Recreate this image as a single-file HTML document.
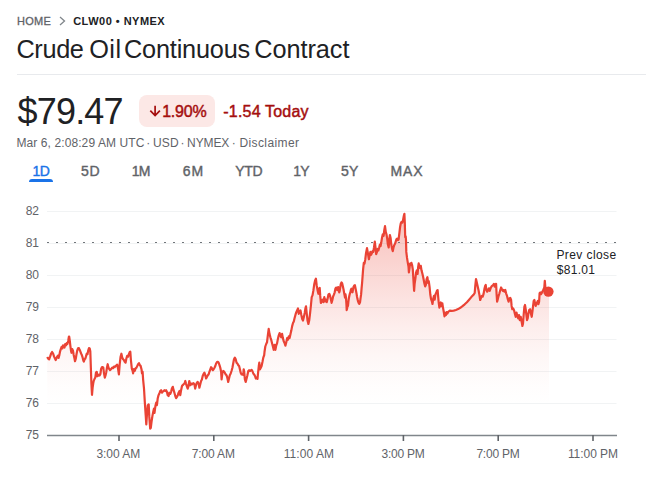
<!DOCTYPE html>
<html><head><meta charset="utf-8">
<style>
html,body{margin:0;padding:0;background:#fff;}
body{width:646px;height:478px;position:relative;overflow:hidden;font-family:"Liberation Sans",sans-serif;color:#202124;}
.t{position:absolute;white-space:nowrap;line-height:1;}
.hr{position:absolute;left:17px;right:0;top:74px;height:1px;background:#e8eaed;}
.badge{position:absolute;left:139px;top:95px;width:76px;height:31.5px;border-radius:8px;background:#fce8e6;}
.ul{position:absolute;left:29px;top:179px;width:24px;height:3px;border-radius:3px 3px 0 0;background:#1a73e8;}
.yl{font-size:12px;color:#5f6368;left:25.7px;}
.dot{font-size:12px;color:#5f6368;top:136.6px;}
svg{position:absolute;left:0;top:0;}
</style></head><body>
<svg width="646" height="478" viewBox="0 0 646 478">
<defs><linearGradient id="g" gradientUnits="userSpaceOnUse" x1="0" y1="211" x2="0" y2="405">
<stop offset="0" stop-color="#ea4335" stop-opacity="0.34"/><stop offset="0.242" stop-color="#ea4335" stop-opacity="0.24"/><stop offset="0.407" stop-color="#ea4335" stop-opacity="0.17"/><stop offset="0.603" stop-color="#ea4335" stop-opacity="0.09"/><stop offset="0.747" stop-color="#ea4335" stop-opacity="0.045"/><stop offset="0.902" stop-color="#ea4335" stop-opacity="0.012"/><stop offset="1" stop-color="#ea4335" stop-opacity="0"/></linearGradient></defs>
<path d="M60,16.9 L64.5,20.9 L60,24.9" fill="none" stroke="#80868b" stroke-width="1.3"/>
<g stroke="#f1f3f4" stroke-width="1"><line x1="47" x2="616.5" y1="211.5" y2="211.5"/><line x1="47" x2="616.5" y1="243.5" y2="243.5"/><line x1="47" x2="616.5" y1="275.5" y2="275.5"/><line x1="47" x2="616.5" y1="307.5" y2="307.5"/><line x1="47" x2="616.5" y1="339.5" y2="339.5"/><line x1="47" x2="616.5" y1="371.5" y2="371.5"/><line x1="47" x2="616.5" y1="403.5" y2="403.5"/></g>
<path d="M47.2,356.9 L48.1,358.6 L49.1,359.3 L50.2,356.4 L51.0,353.9 L52.1,352.0 L53.1,353.5 L54.0,356.4 L55.0,358.6 L55.7,360.1 L56.9,357.1 L57.9,355.7 L58.6,357.9 L59.4,354.9 L60.1,351.3 L60.8,349.1 L61.6,346.9 L62.3,348.4 L63.0,345.4 L63.8,346.2 L64.5,347.6 L65.2,344.0 L66.0,345.4 L66.7,343.2 L67.4,344.0 L68.2,341.0 L68.9,336.6 L69.2,336.6 L69.8,341.0 L70.4,346.2 L71.1,351.3 L71.5,352.8 L72.3,349.1 L73.0,350.6 L73.7,354.9 L74.5,358.6 L75.0,361.2 L75.8,358.6 L76.5,354.2 L77.2,350.6 L78.0,348.4 L78.9,348.1 L79.6,349.8 L80.3,351.3 L81.1,353.5 L81.8,354.9 L82.5,357.1 L83.2,360.1 L83.8,361.5 L84.6,359.3 L85.3,358.6 L86.0,356.4 L86.8,353.5 L87.5,354.2 L88.2,350.6 L89.0,348.1 L89.7,348.4 L90.3,351.3 L90.6,360.1 L91.0,371.8 L91.4,383.5 L92.0,394.8 L92.6,387.9 L93.2,383.5 L93.8,380.6 L94.5,379.1 L95.3,377.6 L96.0,372.5 L96.7,371.8 L97.5,376.2 L98.2,375.5 L98.9,374.7 L99.6,375.5 L100.4,374.0 L101.1,368.9 L101.8,367.4 L102.6,367.1 L103.3,367.7 L104.0,373.3 L104.8,377.6 L105.5,375.5 L106.2,372.5 L107.0,367.4 L107.7,364.2 L108.0,365.9 L108.8,368.4 L110.0,370.1 L111.0,369.2 L112.2,367.6 L113.0,368.1 L113.9,366.7 L114.7,367.1 L115.5,365.9 L116.4,365.4 L117.2,364.7 L118.0,368.4 L118.9,374.3 L119.7,364.2 L120.6,356.7 L121.4,353.7 L122.2,357.5 L123.1,359.2 L123.9,360.0 L124.7,361.7 L125.6,362.6 L126.4,358.4 L127.2,355.9 L128.1,356.7 L128.9,354.2 L129.8,352.0 L130.3,351.7 L130.9,360.0 L131.8,368.4 L132.6,370.9 L133.1,373.4 L133.9,369.2 L134.8,370.9 L135.6,368.4 L136.5,367.6 L137.3,365.9 L138.1,364.2 L139.0,363.1 L139.8,365.1 L140.6,365.9 L141.5,369.2 L142.0,373.4 L142.6,371.8 L143.1,379.3 L144.0,388.5 L144.8,401.9 L145.7,415.3 L146.3,424.5 L147.0,413.6 L147.8,405.2 L148.7,404.4 L149.3,416.9 L150.2,428.7 L150.8,427.8 L151.5,422.0 L152.4,416.1 L153.2,411.9 L154.0,408.6 L154.5,412.8 L155.4,406.1 L156.2,402.7 L156.9,405.2 L157.7,398.5 L158.5,395.2 L159.4,393.5 L160.2,391.0 L161.1,390.2 L161.9,392.7 L162.7,391.8 L163.6,391.0 L164.4,390.2 L165.2,391.0 L166.1,390.2 L166.9,391.8 L167.7,395.2 L168.6,396.0 L169.4,392.7 L170.3,393.8 L171.1,391.8 L171.9,388.5 L172.8,386.8 L173.6,390.2 L174.4,392.7 L175.3,396.0 L176.1,398.2 L177.0,396.9 L177.8,395.2 L178.6,392.7 L179.5,391.0 L180.3,395.2 L181.1,390.2 L182.0,386.0 L182.8,385.1 L183.6,384.3 L184.5,383.5 L185.3,381.0 L186.0,383.6 L186.8,386.1 L187.7,388.6 L188.5,386.1 L189.3,381.0 L190.2,385.2 L191.0,383.6 L191.9,384.4 L192.7,383.6 L193.5,383.2 L194.4,384.4 L195.2,388.6 L196.0,385.2 L196.9,382.7 L197.7,381.9 L198.6,383.6 L199.4,387.7 L200.2,384.4 L201.1,381.0 L201.9,379.4 L202.7,376.0 L203.6,373.8 L204.4,372.7 L205.2,374.9 L206.1,378.5 L206.9,376.9 L207.8,375.2 L208.6,374.4 L209.4,371.8 L210.3,369.3 L211.1,367.2 L211.9,368.2 L212.8,370.2 L213.6,369.3 L214.5,367.7 L215.3,366.0 L216.1,363.5 L217.0,362.1 L217.8,361.8 L218.6,362.6 L219.5,365.1 L220.3,367.7 L221.1,371.8 L221.6,379.4 L222.3,373.5 L223.2,371.0 L224.0,371.5 L224.8,372.7 L225.7,374.4 L226.5,375.2 L227.3,377.7 L228.2,381.9 L229.0,378.5 L229.8,375.2 L230.7,373.5 L231.5,371.0 L232.4,367.7 L233.2,363.5 L234.0,359.3 L234.9,357.6 L235.7,359.3 L236.5,362.6 L237.4,363.5 L238.2,365.1 L239.1,366.0 L239.9,369.3 L240.7,372.7 L241.6,374.4 L242.4,373.8 L243.2,374.9 L243.7,369.3 L244.2,371.8 L244.9,379.4 L245.7,381.9 L246.6,378.5 L247.4,375.2 L248.3,371.0 L249.1,370.2 L249.9,371.0 L250.8,370.5 L251.6,369.8 L252.4,371.0 L253.3,373.5 L254.1,374.4 L255.0,376.0 L255.8,378.5 L256.6,377.7 L257.5,378.9 L258.0,373.5 L258.8,366.0 L259.3,362.6 L260.0,369.3 L260.8,367.7 L261.6,366.0 L262.5,361.8 L263.3,357.6 L264.2,355.1 L264.5,352.0 L265.3,346.5 L266.2,344.0 L267.0,342.3 L267.9,334.8 L268.7,328.9 L269.5,333.9 L270.4,337.3 L271.2,339.8 L272.0,343.1 L272.9,346.5 L273.7,349.8 L274.6,344.8 L275.4,349.8 L276.2,345.6 L277.1,343.1 L277.9,338.9 L278.7,335.6 L279.6,333.1 L280.4,335.6 L281.2,337.3 L282.1,333.9 L282.9,338.1 L283.8,341.5 L284.6,343.1 L285.4,345.6 L286.3,342.3 L287.1,338.1 L287.9,339.8 L288.8,336.4 L289.6,338.1 L290.5,333.9 L291.3,330.6 L292.1,326.4 L293.0,323.0 L293.8,321.4 L294.6,318.0 L295.5,314.7 L296.3,312.2 L297.1,310.5 L298.0,308.5 L298.8,313.8 L299.7,312.2 L300.5,310.5 L301.3,314.7 L302.2,318.9 L303.0,320.5 L303.8,317.2 L304.7,313.0 L305.5,308.0 L306.0,306.3 L306.7,313.0 L307.5,320.5 L308.4,323.9 L309.2,320.5 L310.0,313.8 L310.9,305.5 L311.7,297.1 L312.5,295.4 L313.4,290.4 L314.2,284.6 L315.1,280.4 L315.9,278.7 L316.7,285.4 L317.6,290.4 L318.4,293.8 L319.2,288.7 L319.7,287.9 L320.2,295.4 L320.9,303.0 L321.7,301.3 L322.6,299.6 L323.4,302.1 L324.3,297.1 L325.1,301.3 L325.9,299.6 L326.8,302.1 L327.6,298.8 L328.4,294.6 L329.3,293.8 L330.0,295.5 L330.8,299.1 L331.6,302.8 L332.3,300.2 L333.1,296.5 L334.0,294.4 L334.7,292.3 L335.4,288.7 L336.1,287.6 L336.6,289.7 L337.1,287.6 L337.6,290.2 L338.2,287.1 L338.7,288.7 L339.2,292.3 L339.7,290.8 L340.3,287.1 L340.8,284.0 L341.5,282.4 L342.2,283.4 L342.9,286.6 L343.6,289.7 L344.3,293.9 L345.0,297.6 L345.5,294.4 L346.0,297.6 L346.4,303.8 L346.7,310.1 L347.2,308.0 L347.6,303.8 L348.0,305.9 L348.4,301.7 L348.8,298.6 L349.4,295.5 L349.9,293.4 L350.4,292.3 L350.9,289.7 L351.4,288.7 L352.0,290.2 L352.5,292.3 L353.0,289.2 L353.5,287.1 L354.3,285.5 L354.9,285.2 L355.4,287.6 L355.9,290.2 L356.5,293.4 L357.0,296.5 L357.5,299.1 L358.0,301.2 L358.6,302.8 L359.3,303.8 L360.0,302.3 L360.5,298.6 L361.1,294.4 L361.6,288.2 L362.1,282.9 L363.1,269.4 L363.8,262.8 L364.5,263.6 L365.3,259.2 L366.0,253.3 L367.0,248.2 L367.9,253.3 L368.9,259.2 L369.6,255.5 L370.4,251.9 L371.1,254.8 L371.8,253.3 L372.6,251.1 L373.3,251.9 L374.0,247.5 L374.8,241.6 L375.5,247.5 L376.2,254.1 L377.0,251.9 L377.7,248.9 L378.4,250.4 L379.2,247.5 L379.9,244.5 L380.6,246.0 L381.4,241.6 L382.1,237.2 L382.8,234.3 L383.6,235.8 L384.3,229.9 L385.0,226.2 L385.8,232.1 L386.5,234.3 L387.2,238.7 L387.9,244.5 L388.7,247.5 L389.4,238.7 L389.9,235.0 L390.6,237.9 L391.3,244.5 L392.1,248.9 L392.8,251.1 L393.5,247.5 L394.2,245.3 L395.0,243.8 L395.7,241.6 L396.4,239.4 L397.2,238.7 L397.9,240.1 L398.6,239.4 L399.4,232.8 L400.1,227.0 L400.8,223.3 L401.6,221.8 L402.3,222.6 L403.0,220.4 L403.8,216.0 L404.4,213.8 L404.8,222.6 L405.2,237.2 L405.7,236.5 L406.0,240.1 L406.3,251.9 L407.0,257.7 L407.7,262.1 L408.5,266.5 L408.9,272.4 L409.5,268.0 L410.1,263.6 L410.6,265.0 L411.4,262.8 L412.1,265.0 L412.8,269.4 L414.1,290.8 L414.6,284.2 L415.4,278.4 L416.1,272.5 L416.8,270.3 L417.6,274.0 L418.2,266.6 L418.7,263.4 L419.3,265.9 L420.1,268.1 L420.8,265.9 L421.5,270.3 L422.3,273.2 L423.0,276.2 L423.7,279.8 L424.4,283.5 L425.2,286.4 L425.9,284.9 L426.6,279.1 L427.4,277.2 L428.1,282.8 L428.8,281.3 L429.6,287.1 L430.3,294.5 L431.0,298.9 L431.8,301.1 L432.5,304.0 L433.2,298.9 L434.0,295.9 L434.7,299.6 L435.4,294.5 L436.2,293.0 L436.9,290.8 L437.6,290.1 L438.1,295.9 L438.7,302.5 L439.4,307.6 L440.1,304.7 L440.8,302.5 L441.6,306.2 L442.3,303.3 L443.0,307.6 L443.8,312.0 L444.5,316.4 L445.2,312.8 L446.0,315.0 L446.7,312.0 L447.4,313.5 L448.2,312.0 L448.9,311.3 L449.8,310.6 L451.5,310.9 L453.7,310.6 L455.9,310.0 L458.1,309.1 L460.3,307.8 L462.5,306.2 L464.7,304.3 L466.9,302.2 L469.1,299.7 L471.3,297.1 L473.5,294.8 L474.7,293.0 L475.3,285.7 L476.0,279.1 L476.8,282.5 L477.7,286.6 L478.5,290.0 L479.3,294.2 L480.2,300.0 L481.0,297.8 L481.9,295.8 L482.7,296.7 L483.5,294.2 L484.4,289.1 L485.2,285.8 L485.7,285.0 L486.4,290.0 L487.2,291.7 L488.1,290.0 L488.9,288.3 L489.7,290.8 L490.6,288.3 L491.4,286.6 L492.2,285.8 L493.1,285.0 L493.9,283.8 L494.7,286.6 L495.6,284.1 L496.1,283.8 L496.6,294.2 L497.1,301.7 L497.8,299.2 L498.6,295.8 L499.4,293.3 L500.3,290.0 L501.1,287.5 L501.9,289.1 L502.8,290.8 L503.6,290.0 L504.5,291.7 L505.3,290.0 L506.1,293.3 L507.0,295.8 L507.8,299.2 L508.6,301.7 L509.5,298.4 L510.3,297.8 L511.1,300.0 L511.6,305.9 L512.3,309.2 L513.2,308.4 L514.0,310.1 L514.8,313.4 L515.7,316.8 L516.5,312.6 L517.3,315.9 L518.2,318.4 L519.0,315.1 L519.8,320.1 L520.7,316.8 L521.5,320.9 L522.4,326.0 L523.0,323.5 L523.7,314.3 L524.4,306.7 L525.0,305.0 L525.7,309.2 L526.4,315.1 L527.0,320.1 L527.7,318.4 L528.4,313.4 L529.2,310.1 L530.1,309.2 L530.9,313.4 L531.7,316.8 L532.4,311.7 L533.1,305.9 L533.7,300.9 L534.4,300.0 L535.1,304.2 L535.7,305.9 L536.4,303.4 L537.1,302.5 L537.8,300.9 L538.4,304.2 L539.1,301.7 L539.6,293.3 L540.3,292.5 L540.9,294.2 L541.6,293.3 L542.3,291.7 L542.9,290.8 L543.6,289.1 L544.3,287.5 L544.8,280.8 L545.3,286.6 L546.0,290.0 L547.1,291.7 L548.3,291.7 L549,291.7 L549,436 L47.2,436 Z" fill="url(#g)" stroke="none"/>
<line x1="47" x2="617" y1="242.5" y2="242.5" stroke="#70757a" stroke-width="1.2" stroke-dasharray="2 7"/>
<line x1="47" x2="617" y1="435.5" y2="435.5" stroke="#80868b" stroke-width="1.4"/>
<g stroke="#5f6368" stroke-width="1.6"><line x1="119.0" x2="119.0" y1="435" y2="441"/><line x1="213.8" x2="213.8" y1="435" y2="441"/><line x1="308.6" x2="308.6" y1="435" y2="441"/><line x1="403.4" x2="403.4" y1="435" y2="441"/><line x1="498.2" x2="498.2" y1="435" y2="441"/><line x1="593.0" x2="593.0" y1="435" y2="441"/></g>
<path d="M47.2,356.9 L48.1,358.6 L49.1,359.3 L50.2,356.4 L51.0,353.9 L52.1,352.0 L53.1,353.5 L54.0,356.4 L55.0,358.6 L55.7,360.1 L56.9,357.1 L57.9,355.7 L58.6,357.9 L59.4,354.9 L60.1,351.3 L60.8,349.1 L61.6,346.9 L62.3,348.4 L63.0,345.4 L63.8,346.2 L64.5,347.6 L65.2,344.0 L66.0,345.4 L66.7,343.2 L67.4,344.0 L68.2,341.0 L68.9,336.6 L69.2,336.6 L69.8,341.0 L70.4,346.2 L71.1,351.3 L71.5,352.8 L72.3,349.1 L73.0,350.6 L73.7,354.9 L74.5,358.6 L75.0,361.2 L75.8,358.6 L76.5,354.2 L77.2,350.6 L78.0,348.4 L78.9,348.1 L79.6,349.8 L80.3,351.3 L81.1,353.5 L81.8,354.9 L82.5,357.1 L83.2,360.1 L83.8,361.5 L84.6,359.3 L85.3,358.6 L86.0,356.4 L86.8,353.5 L87.5,354.2 L88.2,350.6 L89.0,348.1 L89.7,348.4 L90.3,351.3 L90.6,360.1 L91.0,371.8 L91.4,383.5 L92.0,394.8 L92.6,387.9 L93.2,383.5 L93.8,380.6 L94.5,379.1 L95.3,377.6 L96.0,372.5 L96.7,371.8 L97.5,376.2 L98.2,375.5 L98.9,374.7 L99.6,375.5 L100.4,374.0 L101.1,368.9 L101.8,367.4 L102.6,367.1 L103.3,367.7 L104.0,373.3 L104.8,377.6 L105.5,375.5 L106.2,372.5 L107.0,367.4 L107.7,364.2 L108.0,365.9 L108.8,368.4 L110.0,370.1 L111.0,369.2 L112.2,367.6 L113.0,368.1 L113.9,366.7 L114.7,367.1 L115.5,365.9 L116.4,365.4 L117.2,364.7 L118.0,368.4 L118.9,374.3 L119.7,364.2 L120.6,356.7 L121.4,353.7 L122.2,357.5 L123.1,359.2 L123.9,360.0 L124.7,361.7 L125.6,362.6 L126.4,358.4 L127.2,355.9 L128.1,356.7 L128.9,354.2 L129.8,352.0 L130.3,351.7 L130.9,360.0 L131.8,368.4 L132.6,370.9 L133.1,373.4 L133.9,369.2 L134.8,370.9 L135.6,368.4 L136.5,367.6 L137.3,365.9 L138.1,364.2 L139.0,363.1 L139.8,365.1 L140.6,365.9 L141.5,369.2 L142.0,373.4 L142.6,371.8 L143.1,379.3 L144.0,388.5 L144.8,401.9 L145.7,415.3 L146.3,424.5 L147.0,413.6 L147.8,405.2 L148.7,404.4 L149.3,416.9 L150.2,428.7 L150.8,427.8 L151.5,422.0 L152.4,416.1 L153.2,411.9 L154.0,408.6 L154.5,412.8 L155.4,406.1 L156.2,402.7 L156.9,405.2 L157.7,398.5 L158.5,395.2 L159.4,393.5 L160.2,391.0 L161.1,390.2 L161.9,392.7 L162.7,391.8 L163.6,391.0 L164.4,390.2 L165.2,391.0 L166.1,390.2 L166.9,391.8 L167.7,395.2 L168.6,396.0 L169.4,392.7 L170.3,393.8 L171.1,391.8 L171.9,388.5 L172.8,386.8 L173.6,390.2 L174.4,392.7 L175.3,396.0 L176.1,398.2 L177.0,396.9 L177.8,395.2 L178.6,392.7 L179.5,391.0 L180.3,395.2 L181.1,390.2 L182.0,386.0 L182.8,385.1 L183.6,384.3 L184.5,383.5 L185.3,381.0 L186.0,383.6 L186.8,386.1 L187.7,388.6 L188.5,386.1 L189.3,381.0 L190.2,385.2 L191.0,383.6 L191.9,384.4 L192.7,383.6 L193.5,383.2 L194.4,384.4 L195.2,388.6 L196.0,385.2 L196.9,382.7 L197.7,381.9 L198.6,383.6 L199.4,387.7 L200.2,384.4 L201.1,381.0 L201.9,379.4 L202.7,376.0 L203.6,373.8 L204.4,372.7 L205.2,374.9 L206.1,378.5 L206.9,376.9 L207.8,375.2 L208.6,374.4 L209.4,371.8 L210.3,369.3 L211.1,367.2 L211.9,368.2 L212.8,370.2 L213.6,369.3 L214.5,367.7 L215.3,366.0 L216.1,363.5 L217.0,362.1 L217.8,361.8 L218.6,362.6 L219.5,365.1 L220.3,367.7 L221.1,371.8 L221.6,379.4 L222.3,373.5 L223.2,371.0 L224.0,371.5 L224.8,372.7 L225.7,374.4 L226.5,375.2 L227.3,377.7 L228.2,381.9 L229.0,378.5 L229.8,375.2 L230.7,373.5 L231.5,371.0 L232.4,367.7 L233.2,363.5 L234.0,359.3 L234.9,357.6 L235.7,359.3 L236.5,362.6 L237.4,363.5 L238.2,365.1 L239.1,366.0 L239.9,369.3 L240.7,372.7 L241.6,374.4 L242.4,373.8 L243.2,374.9 L243.7,369.3 L244.2,371.8 L244.9,379.4 L245.7,381.9 L246.6,378.5 L247.4,375.2 L248.3,371.0 L249.1,370.2 L249.9,371.0 L250.8,370.5 L251.6,369.8 L252.4,371.0 L253.3,373.5 L254.1,374.4 L255.0,376.0 L255.8,378.5 L256.6,377.7 L257.5,378.9 L258.0,373.5 L258.8,366.0 L259.3,362.6 L260.0,369.3 L260.8,367.7 L261.6,366.0 L262.5,361.8 L263.3,357.6 L264.2,355.1 L264.5,352.0 L265.3,346.5 L266.2,344.0 L267.0,342.3 L267.9,334.8 L268.7,328.9 L269.5,333.9 L270.4,337.3 L271.2,339.8 L272.0,343.1 L272.9,346.5 L273.7,349.8 L274.6,344.8 L275.4,349.8 L276.2,345.6 L277.1,343.1 L277.9,338.9 L278.7,335.6 L279.6,333.1 L280.4,335.6 L281.2,337.3 L282.1,333.9 L282.9,338.1 L283.8,341.5 L284.6,343.1 L285.4,345.6 L286.3,342.3 L287.1,338.1 L287.9,339.8 L288.8,336.4 L289.6,338.1 L290.5,333.9 L291.3,330.6 L292.1,326.4 L293.0,323.0 L293.8,321.4 L294.6,318.0 L295.5,314.7 L296.3,312.2 L297.1,310.5 L298.0,308.5 L298.8,313.8 L299.7,312.2 L300.5,310.5 L301.3,314.7 L302.2,318.9 L303.0,320.5 L303.8,317.2 L304.7,313.0 L305.5,308.0 L306.0,306.3 L306.7,313.0 L307.5,320.5 L308.4,323.9 L309.2,320.5 L310.0,313.8 L310.9,305.5 L311.7,297.1 L312.5,295.4 L313.4,290.4 L314.2,284.6 L315.1,280.4 L315.9,278.7 L316.7,285.4 L317.6,290.4 L318.4,293.8 L319.2,288.7 L319.7,287.9 L320.2,295.4 L320.9,303.0 L321.7,301.3 L322.6,299.6 L323.4,302.1 L324.3,297.1 L325.1,301.3 L325.9,299.6 L326.8,302.1 L327.6,298.8 L328.4,294.6 L329.3,293.8 L330.0,295.5 L330.8,299.1 L331.6,302.8 L332.3,300.2 L333.1,296.5 L334.0,294.4 L334.7,292.3 L335.4,288.7 L336.1,287.6 L336.6,289.7 L337.1,287.6 L337.6,290.2 L338.2,287.1 L338.7,288.7 L339.2,292.3 L339.7,290.8 L340.3,287.1 L340.8,284.0 L341.5,282.4 L342.2,283.4 L342.9,286.6 L343.6,289.7 L344.3,293.9 L345.0,297.6 L345.5,294.4 L346.0,297.6 L346.4,303.8 L346.7,310.1 L347.2,308.0 L347.6,303.8 L348.0,305.9 L348.4,301.7 L348.8,298.6 L349.4,295.5 L349.9,293.4 L350.4,292.3 L350.9,289.7 L351.4,288.7 L352.0,290.2 L352.5,292.3 L353.0,289.2 L353.5,287.1 L354.3,285.5 L354.9,285.2 L355.4,287.6 L355.9,290.2 L356.5,293.4 L357.0,296.5 L357.5,299.1 L358.0,301.2 L358.6,302.8 L359.3,303.8 L360.0,302.3 L360.5,298.6 L361.1,294.4 L361.6,288.2 L362.1,282.9 L363.1,269.4 L363.8,262.8 L364.5,263.6 L365.3,259.2 L366.0,253.3 L367.0,248.2 L367.9,253.3 L368.9,259.2 L369.6,255.5 L370.4,251.9 L371.1,254.8 L371.8,253.3 L372.6,251.1 L373.3,251.9 L374.0,247.5 L374.8,241.6 L375.5,247.5 L376.2,254.1 L377.0,251.9 L377.7,248.9 L378.4,250.4 L379.2,247.5 L379.9,244.5 L380.6,246.0 L381.4,241.6 L382.1,237.2 L382.8,234.3 L383.6,235.8 L384.3,229.9 L385.0,226.2 L385.8,232.1 L386.5,234.3 L387.2,238.7 L387.9,244.5 L388.7,247.5 L389.4,238.7 L389.9,235.0 L390.6,237.9 L391.3,244.5 L392.1,248.9 L392.8,251.1 L393.5,247.5 L394.2,245.3 L395.0,243.8 L395.7,241.6 L396.4,239.4 L397.2,238.7 L397.9,240.1 L398.6,239.4 L399.4,232.8 L400.1,227.0 L400.8,223.3 L401.6,221.8 L402.3,222.6 L403.0,220.4 L403.8,216.0 L404.4,213.8 L404.8,222.6 L405.2,237.2 L405.7,236.5 L406.0,240.1 L406.3,251.9 L407.0,257.7 L407.7,262.1 L408.5,266.5 L408.9,272.4 L409.5,268.0 L410.1,263.6 L410.6,265.0 L411.4,262.8 L412.1,265.0 L412.8,269.4 L414.1,290.8 L414.6,284.2 L415.4,278.4 L416.1,272.5 L416.8,270.3 L417.6,274.0 L418.2,266.6 L418.7,263.4 L419.3,265.9 L420.1,268.1 L420.8,265.9 L421.5,270.3 L422.3,273.2 L423.0,276.2 L423.7,279.8 L424.4,283.5 L425.2,286.4 L425.9,284.9 L426.6,279.1 L427.4,277.2 L428.1,282.8 L428.8,281.3 L429.6,287.1 L430.3,294.5 L431.0,298.9 L431.8,301.1 L432.5,304.0 L433.2,298.9 L434.0,295.9 L434.7,299.6 L435.4,294.5 L436.2,293.0 L436.9,290.8 L437.6,290.1 L438.1,295.9 L438.7,302.5 L439.4,307.6 L440.1,304.7 L440.8,302.5 L441.6,306.2 L442.3,303.3 L443.0,307.6 L443.8,312.0 L444.5,316.4 L445.2,312.8 L446.0,315.0 L446.7,312.0 L447.4,313.5 L448.2,312.0 L448.9,311.3 L449.8,310.6 L451.5,310.9 L453.7,310.6 L455.9,310.0 L458.1,309.1 L460.3,307.8 L462.5,306.2 L464.7,304.3 L466.9,302.2 L469.1,299.7 L471.3,297.1 L473.5,294.8 L474.7,293.0 L475.3,285.7 L476.0,279.1 L476.8,282.5 L477.7,286.6 L478.5,290.0 L479.3,294.2 L480.2,300.0 L481.0,297.8 L481.9,295.8 L482.7,296.7 L483.5,294.2 L484.4,289.1 L485.2,285.8 L485.7,285.0 L486.4,290.0 L487.2,291.7 L488.1,290.0 L488.9,288.3 L489.7,290.8 L490.6,288.3 L491.4,286.6 L492.2,285.8 L493.1,285.0 L493.9,283.8 L494.7,286.6 L495.6,284.1 L496.1,283.8 L496.6,294.2 L497.1,301.7 L497.8,299.2 L498.6,295.8 L499.4,293.3 L500.3,290.0 L501.1,287.5 L501.9,289.1 L502.8,290.8 L503.6,290.0 L504.5,291.7 L505.3,290.0 L506.1,293.3 L507.0,295.8 L507.8,299.2 L508.6,301.7 L509.5,298.4 L510.3,297.8 L511.1,300.0 L511.6,305.9 L512.3,309.2 L513.2,308.4 L514.0,310.1 L514.8,313.4 L515.7,316.8 L516.5,312.6 L517.3,315.9 L518.2,318.4 L519.0,315.1 L519.8,320.1 L520.7,316.8 L521.5,320.9 L522.4,326.0 L523.0,323.5 L523.7,314.3 L524.4,306.7 L525.0,305.0 L525.7,309.2 L526.4,315.1 L527.0,320.1 L527.7,318.4 L528.4,313.4 L529.2,310.1 L530.1,309.2 L530.9,313.4 L531.7,316.8 L532.4,311.7 L533.1,305.9 L533.7,300.9 L534.4,300.0 L535.1,304.2 L535.7,305.9 L536.4,303.4 L537.1,302.5 L537.8,300.9 L538.4,304.2 L539.1,301.7 L539.6,293.3 L540.3,292.5 L540.9,294.2 L541.6,293.3 L542.3,291.7 L542.9,290.8 L543.6,289.1 L544.3,287.5 L544.8,280.8 L545.3,286.6 L546.0,290.0 L547.1,291.7 L548.3,291.7" fill="none" stroke="#ea4335" stroke-width="2.2" stroke-linejoin="round" stroke-linecap="butt"/>
<circle cx="548.4" cy="291.6" r="5.2" fill="#ea4335"/>
</svg>
<div class="hr"></div>
<div class="badge"></div>
<svg width="646" height="478" viewBox="0 0 646 478"><path d="M155.1,105.8 V115.3 M150.3,110.6 L155.1,115.6 L159.9,110.6" fill="none" stroke="#a50e0e" stroke-width="1.7"/></svg>
<div class="ul"></div>
<div class="t" style="left:16.9px;top:16.3px;font-size:11px;letter-spacing:0.31px;color:#5f6368;-webkit-text-stroke:0.3px #5f6368;">HOME</div>
<div class="t" style="left:73.2px;top:16.0px;font-size:11px;letter-spacing:0.48px;color:#202124;font-weight:bold;">CLW00 • NYMEX</div>
<div class="t" style="left:16.4px;top:37.3px;font-size:25.3px;letter-spacing:-0.34px;color:#202124;">Crude</div>
<div class="t" style="left:89.2px;top:37.3px;font-size:25.3px;letter-spacing:0.5px;color:#202124;">Oil</div>
<div class="t" style="left:124.0px;top:37.3px;font-size:25.3px;letter-spacing:-0.19px;color:#202124;">Continuous</div>
<div class="t" style="left:254.2px;top:37.3px;font-size:25.3px;letter-spacing:-0.05px;color:#202124;">Contract</div>
<div class="t" style="left:17.5px;top:94.2px;font-size:36px;letter-spacing:-0.8px;color:#202124;">$79.47</div>
<div class="t" style="left:162.20000000000002px;top:104.3px;font-size:16px;letter-spacing:-0.22999999999999998px;color:#a50e0e;-webkit-text-stroke:0.45px #a50e0e;">1.90%</div>
<div class="t" style="left:223.3px;top:104.3px;font-size:16px;letter-spacing:0.19px;color:#a50e0e;-webkit-text-stroke:0.45px #a50e0e;">-1.54 Today</div>
<div class="t" style="left:16.4px;top:136.6px;font-size:12px;letter-spacing:0.1px;color:#5f6368;">Mar 6, 2:08:29 AM UTC</div>
<div class="t" style="left:153.0px;top:136.6px;font-size:12px;letter-spacing:0.11px;color:#5f6368;">USD</div>
<div class="t" style="left:187.1px;top:136.6px;font-size:12px;letter-spacing:-0.1px;color:#5f6368;">NYMEX</div>
<div class="t" style="left:239.4px;top:136.6px;font-size:12px;letter-spacing:0.4px;color:#5f6368;">Disclaimer</div>
<div class="t" style="left:32.4px;top:164.4px;font-size:14px;letter-spacing:-0.4px;color:#1a73e8;-webkit-text-stroke:0.4px #1a73e8;">1D</div>
<div class="t" style="left:81.0px;top:164.4px;font-size:14px;letter-spacing:0.73px;color:#5f6368;-webkit-text-stroke:0.4px #5f6368;">5D</div>
<div class="t" style="left:131.8px;top:164.4px;font-size:14px;letter-spacing:-0.8px;color:#5f6368;-webkit-text-stroke:0.4px #5f6368;">1M</div>
<div class="t" style="left:182.8px;top:164.4px;font-size:14px;letter-spacing:0.8px;color:#5f6368;-webkit-text-stroke:0.4px #5f6368;">6M</div>
<div class="t" style="left:235.3px;top:164.4px;font-size:14px;letter-spacing:-0.37px;color:#5f6368;-webkit-text-stroke:0.4px #5f6368;">YTD</div>
<div class="t" style="left:293.3px;top:164.4px;font-size:14px;letter-spacing:-0.8px;color:#5f6368;-webkit-text-stroke:0.4px #5f6368;">1Y</div>
<div class="t" style="left:341.1px;top:164.4px;font-size:14px;letter-spacing:0.06px;color:#5f6368;-webkit-text-stroke:0.4px #5f6368;">5Y</div>
<div class="t" style="left:390.6px;top:164.4px;font-size:14px;letter-spacing:0.8px;color:#5f6368;-webkit-text-stroke:0.4px #5f6368;">MAX</div>
<div class="t" style="left:96.4px;top:447.8px;font-size:12px;letter-spacing:-0.03px;color:#5f6368;">3:00 AM</div>
<div class="t" style="left:191.7px;top:447.8px;font-size:12px;letter-spacing:-0.12px;color:#5f6368;">7:00 AM</div>
<div class="t" style="left:283.7px;top:447.8px;font-size:12px;letter-spacing:0.07px;color:#5f6368;">11:00 AM</div>
<div class="t" style="left:381.5px;top:447.8px;font-size:12px;letter-spacing:-0.22px;color:#5f6368;">3:00 PM</div>
<div class="t" style="left:476.4px;top:447.8px;font-size:12px;letter-spacing:-0.23px;color:#5f6368;">7:00 PM</div>
<div class="t" style="left:567.9px;top:447.8px;font-size:12px;letter-spacing:-0.05px;color:#5f6368;">11:00 PM</div>
<div class="t" style="left:556.4px;top:248.6px;font-size:12px;letter-spacing:0.42px;color:#202124;">Prev close</div>
<div class="t" style="left:556.7px;top:263.6px;font-size:12px;letter-spacing:0.32px;color:#202124;">$81.01</div>
<div class="t dot" style="left:146.3px;">·</div><div class="t dot" style="left:180.6px;">·</div><div class="t dot" style="left:231.8px;">·</div>
<div class="t yl" style="top:204.8px;">82</div><div class="t yl" style="top:236.8px;">81</div><div class="t yl" style="top:268.9px;">80</div><div class="t yl" style="top:300.9px;">79</div><div class="t yl" style="top:333.0px;">78</div><div class="t yl" style="top:365.0px;">77</div><div class="t yl" style="top:397.0px;">76</div><div class="t yl" style="top:429.1px;">75</div>
</body></html>
